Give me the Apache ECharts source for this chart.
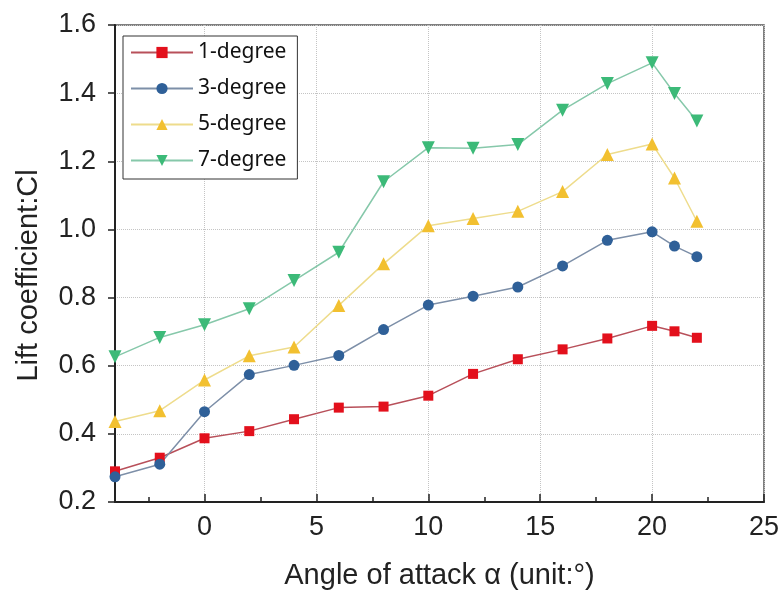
<!DOCTYPE html>
<html>
<head>
<meta charset="utf-8">
<script src="https://cdn.jsdelivr.net/npm/echarts@6/dist/echarts.min.js"></script>
<style>html,body{margin:0;padding:0;background:#fff}#c{width:783px;height:595px}</style>
</head>
<body>
<div id="c"></div>
<script>
const angles = [-4, -2, 0, 2, 4, 6, 8, 10, 12, 14, 16, 18, 20, 21, 22];
const deg1 = [0.29, 0.33, 0.387, 0.408, 0.443, 0.477, 0.48, 0.512, 0.576, 0.619, 0.648, 0.68, 0.717, 0.701, 0.682];
const deg3 = [0.274, 0.311, 0.465, 0.574, 0.601, 0.63, 0.706, 0.778, 0.804, 0.831, 0.893, 0.968, 0.993, 0.951, 0.92];
const deg5 = [0.436, 0.468, 0.558, 0.629, 0.655, 0.777, 0.899, 1.011, 1.032, 1.053, 1.111, 1.22, 1.251, 1.151, 1.024];
const deg7 = [0.626, 0.683, 0.72, 0.767, 0.85, 0.933, 1.14, 1.24, 1.238, 1.249, 1.35, 1.428, 1.489, 1.399, 1.318];
const seriesNames = ['1-degree', '3-degree', '5-degree', '7-degree'];
const xTickLabels = [0, 5, 10, 15, 20, 25];
const xMinorTicks = [-2.5, 2.5, 7.5, 12.5, 17.5, 22.5];

const pairs = arr => angles.map((a, i) => [a, arr[i]]);
const FONT = '"Liberation Sans", Arial, sans-serif';

const chart = echarts.init(document.getElementById('c'), null, {renderer: 'canvas'});
const mk = (name, arr, symbol, size, color, lineColor, rot) => ({
  name, type: 'line', xAxisIndex: 0, yAxisIndex: 0,
  data: pairs(arr), symbol, symbolSize: size, symbolRotate: rot || 0,
  showAllSymbol: true,
  itemStyle: {color: color},
  lineStyle: {color: lineColor, width: 1.5},
  emphasis: {disabled: true},
  z: 3
});

chart.setOption({
  animation: false,
  backgroundColor: '#fff',
  grid: {left: 115, right: 19, top: 25, bottom: 91, show: true, borderColor: '#555', borderWidth: 1.5, containLabel: false},
  legend: {
    orient: 'vertical', left: 123, top: 36,
    padding: [6, 11, 8, 7],
    itemWidth: 62, itemHeight: 14, itemGap: 15,
    borderColor: '#333', borderWidth: 1, backgroundColor: '#fff',
    textStyle: {fontFamily: '"Noto Sans", sans-serif', fontSize: 21, color: '#111', lineHeight: 20},
    data: seriesNames
  },
  xAxis: [{
    type: 'value', min: -4, max: 25,
    name: 'Angle of attack α (unit:°)', nameLocation: 'middle', nameGap: 59,
    nameTextStyle: {fontFamily: FONT, fontSize: 29, color: '#222'},
    axisLine: {show: true, onZero: false, lineStyle: {color: '#222', width: 2}},
    axisTick: {show: true, inside: true, length: 8, customValues: xTickLabels, lineStyle: {color: '#222', width: 1.5}},
    axisLabel: {customValues: xTickLabels, fontFamily: FONT, fontSize: 27, color: '#222', margin: 12},
    splitLine: {show: true, lineStyle: {type: 'dotted', color: '#c4c4c4', width: 1}}
  }, {
    type: 'value', min: -4, max: 25, position: 'bottom', gridIndex: 0,
    axisLine: {show: false},
    axisTick: {show: true, inside: true, length: 5, customValues: xMinorTicks, lineStyle: {color: '#222', width: 1.5}},
    axisLabel: {show: false},
    splitLine: {show: false}
  }],
  yAxis: {
    type: 'value', min: 0.2, max: 1.6, interval: 0.2,
    name: 'Lift coefficient:Cl', nameLocation: 'middle', nameGap: 72,
    nameTextStyle: {fontFamily: FONT, fontSize: 29, color: '#222', padding: [0, 24, 0, 0]},
    axisLine: {show: true, onZero: false, lineStyle: {color: '#222', width: 2}},
    axisTick: {show: true, inside: false, length: 7, lineStyle: {color: '#222', width: 1.5}},
    axisLabel: {fontFamily: FONT, fontSize: 27, color: '#222', margin: 19, formatter: v => v.toFixed(1)},
    splitLine: {show: true, lineStyle: {type: 'dotted', color: '#c4c4c4', width: 1}}
  },
  series: [
    mk(seriesNames[0], deg1, 'rect', 10, '#e3101c', '#b8505a'),
    mk(seriesNames[1], deg3, 'circle', 11, '#2f6098', '#7d8fa8'),
    mk(seriesNames[2], deg5, 'triangle', 13, '#f2c030', '#eedc8c'),
    mk(seriesNames[3], deg7, 'triangle', 13, '#3cba78', '#86c8aa', 180)
  ]
});
</script>
</body>
</html>
